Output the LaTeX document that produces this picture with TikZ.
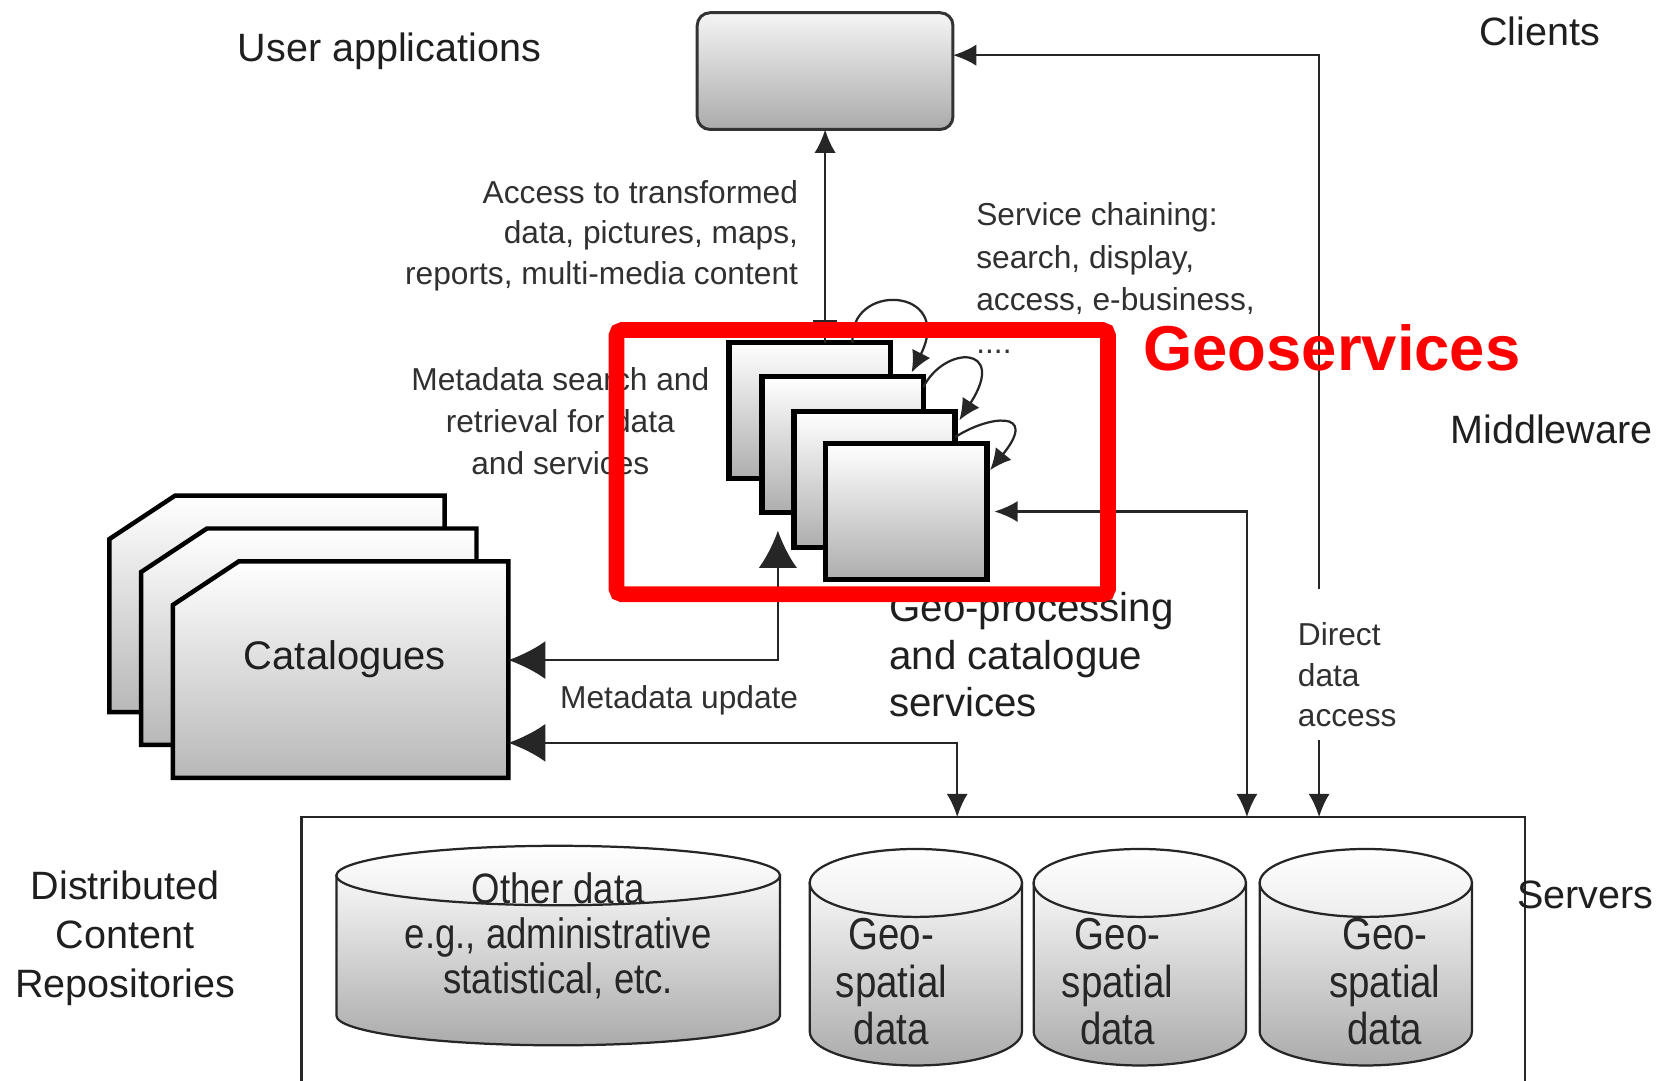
\documentclass[tikz,border=0pt]{standalone}
\usepackage{fontspec}
\setmainfont{Liberation Sans}
\newfontfamily\narrowsf[FakeStretch=0.86]{Liberation Sans}
\usetikzlibrary{arrows.meta,calc}
\definecolor{txtgray}{HTML}{303030}
\newcommand\mycyl[5]{% cx cy by rx ry
 \path[cylbody] ({#1-#4},#2) -- ({#1-#4},#3) .. controls ({#1-#4},{#3+0.5523*#5}) and ({#1-0.5523*#4},{#3+#5}) .. (#1,{#3+#5}) .. controls ({#1+0.5523*#4},{#3+#5}) and ({#1+#4},{#3+0.5523*#5}) .. ({#1+#4},#3) -- ({#1+#4},#2) -- cycle;
 \path[cyltop] (#1,#2) ellipse [x radius=#4, y radius=#5];
}
\begin{document}
\begin{tikzpicture}[x=0.1mm,y=-0.1mm,
  every node/.style={outer sep=0pt},
  small/.style={text=txtgray,font=\fontsize{8.5}{10.8}\selectfont,inner sep=0pt},
  large/.style={text=black!88,font=\fontsize{10.6}{13}\selectfont,inner sep=0pt},
  conn/.style={draw=black!85,line width=0.6pt},
  med/.tip={Latex[length=2.2mm,width=2mm]},
  bigtip/.tip={Latex[length=3.5mm,width=3.6mm]},
  looptip/.tip={Latex[length=2mm,width=1.9mm]},
  svcbox/.style={draw=black,line width=1.45pt,top color=white,bottom color=black!32,minimum width=15.2mm,minimum height=12.8mm,anchor=north west,inner sep=0pt},
  catbox/.style={draw=black,line width=1.2pt,top color=white,bottom color=black!28,line join=miter},
  cylbody/.style={draw=black!85,line width=0.6pt,top color=black!3,bottom color=black!33},
  cyltop/.style={draw=black!85,line width=0.6pt,top color=white,bottom color=black!7},
  cyltext/.style={text=black!85,font=\narrowsf\fontsize{12}{12.8}\selectfont,inner sep=0pt,align=center},
]
\useasboundingbox (0,0) rectangle (1568,1018);

% ---------- labels ----------
\node[large] (userapps) at (367,48) {User applications};
\node[large] (clients) at (1451,30) {Clients};
\node[large] (mid) at (1462,405) {Middleware};
\node[large,align=center,font=\fontsize{10.6}{13.1}\selectfont] (dcr) at (118,884) {Distributed\\Content\\Repositories};
\node[small,align=right,anchor=east] (acc) at (752,222) {Access to transformed\\data, pictures, maps,\\reports, multi-media content};
\node[small,align=left,anchor=west,font=\fontsize{8.5}{11.4}\selectfont] (chain) at (920,262) {Service chaining:\\search, display,\\access, e-business,\\....};
\node[small,align=center,font=\fontsize{8.5}{11.2}\selectfont] (metas) at (528,397) {Metadata search and\\retrieval for data\\and services};
\node[small] (mupd) at (640,660) {Metadata update};
\node[small,align=left,anchor=west] (dda) at (1223,636) {Direct\\data\\access};
\node[large,align=left,anchor=west,font=\fontsize{10.8}{12.8}\selectfont] (gpc) at (838,617) {Geo-processing\\and catalogue\\services};

% ---------- client application box ----------
\node[draw=black!80,line width=0.8pt,rounded corners=1.2mm,top color=black!4,bottom color=black!33,minimum width=24.1mm,minimum height=11mm,anchor=north west,inner sep=0pt] (app) at (657,12) {};

% ---------- catalogues ----------
\path[catbox] (103,508) -- (165,467) -- (419,467) -- (419,671) -- (103,671) -- cycle;
\path[catbox] (133,539) -- (195,498) -- (449,498) -- (449,702) -- (133,702) -- cycle;
\path[catbox] (163,570) -- (225,529) -- (479,529) -- (479,733) -- (163,733) -- cycle;
\node[minimum width=31.6mm,minimum height=20.4mm,anchor=north west,inner sep=0pt] (cat) at (163,529) {};
\node[text=black!88,font=\fontsize{10.7}{13}\selectfont,inner sep=0pt] (catlbl) at (325,621) {Catalogues};

% ---------- service stack ----------
\node[svcbox] (s1) at (687,323) {};
\node[svcbox] (s2) at (718,355) {};
\node[svcbox] (s3) at (748,388) {};
\node[svcbox] (s4) at (778,418) {};

% ---------- servers ----------
\node[draw=black!85,line width=0.7pt,minimum width=115.3mm,minimum height=40mm,anchor=north west,inner sep=0pt] (srv) at (284,770) {};
\node[large] (servers) at (1494,843) {Servers};
\mycyl{526}{825}{957}{209}{28}
\mycyl{863}{832}{972}{100}{32}
\mycyl{1074}{832}{972}{100}{32}
\mycyl{1287}{832}{972}{100}{32}
\node[cyltext,font=\narrowsf\fontsize{11.4}{12}\selectfont] (other) at (526,882) {Other data\\e.g., administrative\\statistical, etc.};
\node[cyltext] (g1) at (840,925) {Geo-\\spatial\\data};
\node[cyltext] (g2) at (1053,925) {Geo-\\spatial\\data};
\node[cyltext] (g3) at (1305,925) {Geo-\\spatial\\data};

% ---------- coordinates for free ends ----------
\coordinate (metaup) at (733,500);
\coordinate (inA) at (902,770);
\coordinate (inB) at (1175,770);
\coordinate (inC) at (1243,770);
\coordinate (ddtop) at (1243,555);
\coordinate (ddbot) at (1243,697);

% ---------- connectors ----------
\draw[conn,-med] (s1.north -| app.south) -- (app.south);
\draw[conn] ($(s1.north -| app.south)+(-11,-20)$) -- ++(2.2mm,0);
\draw[conn,-med] (ddtop) |- ([yshift=1.5mm]app.east);
\draw[conn,-med] (ddbot) -- (inC);
\draw[conn,med-med] ([xshift=0.7mm]s4.east) -| (inB);
\draw[conn,bigtip-bigtip] (metaup) |- ([yshift=0.9mm]cat.east);
\draw[conn,bigtip-med] ([yshift=-6.9mm]cat.east) -| (inA);

% chaining loops
\draw[conn,-looptip] ([xshift=4.05mm]s1.north) .. controls (798,265) and (900,270) .. ([xshift=-1.1mm,yshift=0.4mm]s2.north east);
\draw[conn,-looptip] ([yshift=-1mm]s2.north east) .. controls (890,325) and (950,325) .. ([xshift=0.4mm,yshift=-0.8mm]s3.north east);
\draw[conn,-looptip] ([yshift=-2.4mm]s3.north east) .. controls (930,392) and (980,385) .. ([xshift=0.3mm,yshift=-2.5mm]s4.north east);

% ---------- geoservices frame ----------
\node[draw=red,line width=4.2pt,rounded corners=0.5mm,minimum width=46.3mm,minimum height=24.9mm,anchor=north west,inner sep=0pt] (frame) at (581,311) {};
\node[text=red,font=\bfseries\fontsize{17}{20}\selectfont,inner sep=0pt] (geos) at (1255,328) {Geoservices};
\end{tikzpicture}
\end{document}
